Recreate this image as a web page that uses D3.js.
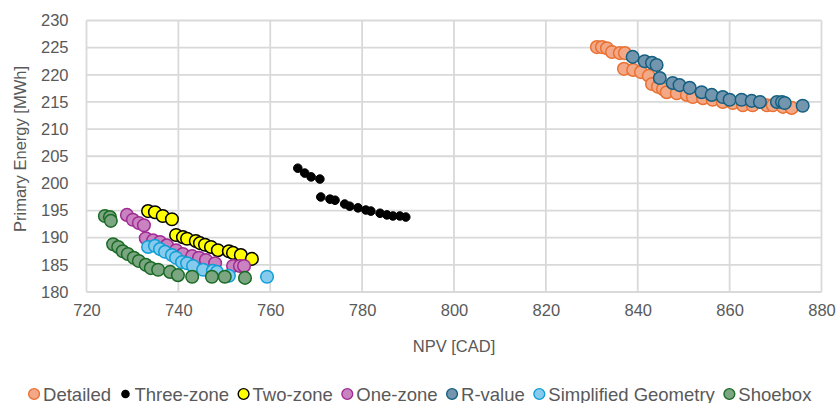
<!DOCTYPE html>
<html>
<head>
<meta charset="utf-8">
<script src="https://cdn.jsdelivr.net/npm/d3@7"></script>
<style>
  html, body { margin: 0; padding: 0; background: #fff; }
  svg { display: block; font-family: "Liberation Sans", Arial, sans-serif; }
</style>
</head>
<body>
<svg id="chart" width="839" height="403"></svg>
<script>
// NPV [CAD] and primary energy [MWh] for each model variant
const detailedNpv    = [831.1, 832.2, 833.3, 834.4, 836.1, 837.2, 837.0, 839.0, 840.7, 842.4, 843.1, 844.4, 845.5, 846.3, 848.5, 850.7, 852.0, 854.2, 856.3, 858.5, 860.7, 862.9, 865.0, 868.1, 869.4, 871.6, 873.5];
const detailedEnergy = [225.1, 225.1, 224.9, 224.2, 224.0, 224.0, 221.1, 220.9, 220.5, 219.8, 218.3, 217.8, 217.4, 216.8, 216.6, 216.3, 215.9, 215.7, 215.4, 215.0, 214.8, 214.4, 214.4, 214.4, 214.4, 214.1, 213.9];

const threeZoneNpv    = [766.0, 767.5, 768.9, 770.8, 771.0, 773.0, 774.1, 776.2, 777.3, 779.1, 780.8, 781.9, 783.9, 785.4, 786.7, 788.2, 789.5];
const threeZoneEnergy = [202.8, 201.9, 201.2, 200.8, 197.5, 197.1, 196.9, 196.2, 195.8, 195.5, 195.1, 194.9, 194.5, 194.2, 194.0, 194.0, 193.8];

const twoZoneNpv    = [733.4, 734.9, 736.6, 738.6, 739.5, 741.0, 741.9, 743.8, 744.7, 745.8, 747.1, 748.6, 751.0, 751.9, 753.6, 756.0];
const twoZoneEnergy = [194.9, 194.7, 194.0, 193.4, 190.5, 190.1, 189.8, 189.4, 189.0, 188.7, 188.3, 187.7, 187.5, 187.2, 186.8, 186.1];

const oneZoneNpv    = [728.8, 730.1, 731.4, 732.5, 732.9, 734.5, 736.0, 737.5, 739.5, 741.0, 743.0, 744.5, 746.0, 748.0, 751.9, 753.4, 754.3];
const oneZoneEnergy = [194.2, 193.3, 192.7, 192.3, 189.9, 189.5, 189.2, 188.6, 187.7, 187.0, 186.6, 186.3, 185.9, 185.3, 184.8, 184.8, 184.8];

const rValueNpv    = [838.9, 841.5, 843.1, 844.1, 844.8, 847.6, 849.1, 851.3, 853.9, 856.1, 858.5, 860.0, 862.6, 864.8, 866.6, 870.3, 871.4, 872.0, 875.9];
const rValueEnergy = [223.3, 222.5, 222.2, 221.8, 219.4, 218.5, 218.1, 217.6, 216.8, 216.3, 215.9, 215.4, 215.4, 215.2, 215.0, 215.0, 215.0, 214.8, 214.3];

const simplifiedNpv    = [733.4, 734.9, 736.0, 737.1, 738.6, 739.5, 740.8, 741.9, 743.2, 745.4, 747.5, 748.4, 751.0, 759.3];
const simplifiedEnergy = [188.3, 188.5, 187.9, 187.4, 186.8, 186.3, 185.5, 185.3, 184.8, 184.1, 183.9, 183.7, 183.0, 182.8];

const shoeboxNpv    = [724.0, 725.1, 725.3, 725.8, 726.9, 727.9, 729.0, 730.3, 731.4, 732.9, 734.0, 735.6, 738.2, 739.9, 743.0, 747.3, 750.1, 754.5];
const shoeboxEnergy = [194.0, 193.8, 193.1, 188.8, 188.3, 187.5, 187.0, 186.3, 185.7, 185.0, 184.4, 184.1, 183.7, 183.1, 182.8, 182.8, 182.8, 182.6];

const seriesNames = ["Detailed", "Three-zone", "Two-zone", "One-zone", "R-value", "Simplified Geometry", "Shoebox"];
const xTicks = [720, 740, 760, 780, 800, 820, 840, 860, 880];
const yTicks = [180, 185, 190, 195, 200, 205, 210, 215, 220, 225, 230];

// series styling
const styles = {
  "Detailed":            { fill: "#F3A987", stroke: "#E97132", r: 6.3, sw: 1.5 },
  "Three-zone":          { fill: "#000000", stroke: "#000000", r: 4.3, sw: 1 },
  "Two-zone":            { fill: "#FFFF00", stroke: "#000000", r: 6.3, sw: 1.5 },
  "One-zone":            { fill: "#C983C1", stroke: "#A02B93", r: 6.3, sw: 1.5 },
  "R-value":             { fill: "#7395AD", stroke: "#156082", r: 6.3, sw: 1.5 },
  "Simplified Geometry": { fill: "#86CBEE", stroke: "#0F9ED5", r: 6.3, sw: 1.5 },
  "Shoebox":             { fill: "#7CA582", stroke: "#196B24", r: 6.3, sw: 1.5 }
};

const series = [
  { name: "Detailed",            x: detailedNpv,   y: detailedEnergy },
  { name: "Three-zone",          x: threeZoneNpv,  y: threeZoneEnergy },
  { name: "Two-zone",            x: twoZoneNpv,    y: twoZoneEnergy },
  { name: "One-zone",            x: oneZoneNpv,    y: oneZoneEnergy },
  { name: "R-value",             x: rValueNpv,     y: rValueEnergy },
  { name: "Simplified Geometry", x: simplifiedNpv, y: simplifiedEnergy },
  { name: "Shoebox",             x: shoeboxNpv,    y: shoeboxEnergy }
];

const svg = d3.select("#chart");
const W = 839, H = 403;
const margin = { left: 86.5, right: W - 821.5, top: 20.5, bottom: H - 292 };

const x = d3.scaleLinear().domain([720, 880]).range([margin.left, W - margin.right]);
const y = d3.scaleLinear().domain([180, 230]).range([H - margin.bottom, margin.top]);

const grid = "#D9D9D9";
const textColor = "#595959";

// gridlines
const g = svg.append("g");
g.selectAll("line.h").data(yTicks).join("line")
  .attr("x1", x(720)).attr("x2", x(880))
  .attr("y1", d => y(d)).attr("y2", d => y(d))
  .attr("stroke", grid).attr("stroke-width", 1.8);
g.selectAll("line.v").data(xTicks).join("line")
  .attr("y1", y(180)).attr("y2", y(230))
  .attr("x1", d => x(d)).attr("x2", d => x(d))
  .attr("stroke", grid).attr("stroke-width", 1.8);

// axes (labels only)
const yAxis = d3.axisLeft(y).tickValues(yTicks).tickSize(0).tickPadding(18);
svg.append("g").attr("transform", `translate(${x(720)},0)`).call(yAxis)
  .call(s => s.select(".domain").remove())
  .selectAll("text").attr("fill", textColor).style("font-size", "16.5px")
  .style("font-family", "\"Liberation Sans\", Arial, sans-serif");

const xAxis = d3.axisBottom(x).tickValues(xTicks).tickSize(0).tickPadding(12);
svg.append("g").attr("transform", `translate(0,${y(180)})`).call(xAxis)
  .call(s => s.select(".domain").remove())
  .selectAll("text").attr("fill", textColor).style("font-size", "16.5px")
  .style("font-family", "\"Liberation Sans\", Arial, sans-serif");

// axis titles
svg.append("text").attr("x", 454).attr("y", 352).attr("text-anchor", "middle")
  .attr("fill", textColor).style("font-size", "16.5px").text("NPV [CAD]");
svg.append("text").attr("transform", "translate(26,149) rotate(-90)")
  .attr("text-anchor", "middle").attr("fill", textColor).style("font-size", "16.5px")
  .text("Primary Energy [MWh]");

// markers
series.forEach(s => {
  const st = styles[s.name];
  svg.append("g").selectAll("circle")
    .data(s.x.map((v, i) => [v, s.y[i]]))
    .join("circle")
    .attr("cx", d => x(d[0])).attr("cy", d => y(d[1]))
    .attr("r", st.r)
    .attr("fill", st.fill).attr("stroke", st.stroke).attr("stroke-width", st.sw);
});

// legend: flowed left to right, centred under the chart
const legend = svg.append("g");
const legendY = 394, symGap = 9, itemGap = 9;
let cursor = 0;
const items = seriesNames.map(name => {
  const st = styles[name];
  const grp = legend.append("g");
  grp.append("circle").attr("cx", 5.5).attr("cy", legendY)
    .attr("r", name === "Three-zone" ? 3.6 : 5.4)
    .attr("fill", st.fill).attr("stroke", st.stroke).attr("stroke-width", 1.4);
  const t = grp.append("text").attr("x", 5.5 + symGap).attr("y", legendY + 6.5)
    .attr("fill", textColor).style("font-size", "18.5px").text(name);
  const w = 5.5 + symGap + t.node().getComputedTextLength();
  grp.attr("transform", `translate(${cursor},0)`);
  cursor += w + itemGap;
  return grp;
});
const total = cursor - itemGap;
legend.attr("transform", `translate(${420 - total / 2},0)`);
</script>
</body>
</html>
